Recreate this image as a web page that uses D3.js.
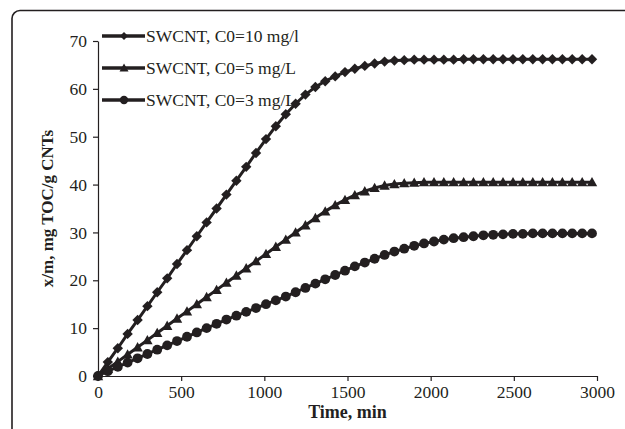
<!DOCTYPE html>
<html>
<head>
<meta charset="utf-8">
<script src="https://cdn.jsdelivr.net/npm/d3@7"></script>
<style>
  body { margin: 0; background: #fff; }
  text { font-family: "Liberation Serif", "Times New Roman", serif; fill: #231f20; }
</style>
</head>
<body>
<div id="content"></div>
<script>
// time points (min)
var time = [0, 59, 119, 178, 238, 297, 356, 416, 475, 535, 594, 653, 713, 772, 832, 891, 950, 1010, 1069, 1129,
    1188, 1247, 1307, 1366, 1426, 1485, 1544, 1604, 1663, 1723, 1782, 1841, 1901, 1960, 2020, 2079, 2138, 2198, 2257, 2317,
    2376, 2435, 2495, 2554, 2614, 2673, 2732, 2792, 2851, 2911, 2970]

var c10 = [0, 2.9, 5.8, 8.8, 11.7, 14.6, 17.5, 20.4, 23.4, 26.3, 29.2, 32.1, 35.0, 37.9, 40.8, 43.7, 46.6, 49.5, 52.2, 54.7,
    56.9, 58.8, 60.4, 61.6, 62.6, 63.5, 64.2, 64.8, 65.3, 65.7, 65.9, 66.0, 66.1, 66.1, 66.1, 66.1, 66.1, 66.2, 66.2, 66.2,
    66.2, 66.2, 66.2, 66.2, 66.2, 66.2, 66.2, 66.2, 66.2, 66.2, 66.2]

var c5 = [0, 1.5, 3.0, 4.5, 6.0, 7.5, 9.0, 10.5, 12.0, 13.5, 15.0, 16.5, 18.0, 19.5, 21.0, 22.5, 24.0, 25.5, 27.0, 28.5,
    30.0, 31.5, 33.0, 34.4, 35.7, 36.8, 37.8, 38.6, 39.3, 39.8, 40.1, 40.3, 40.4, 40.5, 40.5, 40.5, 40.5, 40.5, 40.5, 40.5,
    40.5, 40.5, 40.5, 40.5, 40.5, 40.5, 40.5, 40.5, 40.5, 40.5, 40.5]

var c3 = [0, 1.0, 1.9, 2.8, 3.7, 4.6, 5.5, 6.4, 7.3, 8.2, 9.1, 10.0, 10.9, 11.8, 12.6, 13.4, 14.2, 15.0, 15.8, 16.6,
    17.5, 18.4, 19.3, 20.2, 21.1, 22.0, 22.9, 23.7, 24.5, 25.3, 26.0, 26.6, 27.2, 27.7, 28.1, 28.5, 28.8, 29.0, 29.2, 29.4,
    29.5, 29.6, 29.7, 29.7, 29.8, 29.8, 29.8, 29.8, 29.8, 29.8, 29.8]

var seriesNames = ['SWCNT, C0=10 mg/l', 'SWCNT, C0=5 mg/L', 'SWCNT, C0=3 mg/L']
var xTicks = [0, 500, 1000, 1500, 2000, 2500, 3000]
var yTicks = [0, 10, 20, 30, 40, 50, 60, 70]

var width = 625, height = 429
var margin = { left: 98, right: 28, top: 41, bottom: 53 }
var ink = '#231f20'

// marker shapes: square diamond, triangle, circle
function marker(k, s) {
    if (k === 0) return `M0,${-s}L${s},0L0,${s}L${-s},0Z`
    if (k === 1) return `M0,${-s}L${s},${s * 0.8}L${-s},${s * 0.8}Z`
    return d3.symbol().type(d3.symbolCircle).size(Math.PI * s * s)()
}
var markSize = [5.2, 5.2, 4.9]
var legendSize = [4, 4.5, 4.2]

var svg = d3.select('#content')
    .append('svg')
    .attr('width', width)
    .attr('height', height)

// outer frame (cropped figure border)
svg.append('rect')
    .attr('x', 12)
    .attr('y', 10.5)
    .attr('width', 700)
    .attr('height', 500)
    .attr('rx', 8)
    .attr('fill', 'none')
    .attr('stroke', ink)
    .attr('stroke-width', 1.6)

var x = d3.scaleLinear().domain([0, 3000]).range([margin.left, width - margin.right])
var y = d3.scaleLinear().domain([0, 70]).range([height - margin.bottom, margin.top])

svg.append('g')
    .attr('transform', `translate(0,${y(0)})`)
    .call(d3.axisBottom(x).tickValues(xTicks).tickFormat(d3.format('d')).tickSize(5).tickSizeOuter(0).tickPadding(5))
svg.append('g')
    .attr('transform', `translate(${x(0)},0)`)
    .call(d3.axisLeft(y).tickValues(yTicks).tickFormat(d3.format('d')).tickSize(5).tickSizeOuter(0).tickPadding(6))

svg.selectAll('.domain, .tick line').attr('stroke', ink).attr('stroke-width', 1.2)
svg.selectAll('.tick text').attr('font-size', 17.5).attr('font-family', '"Liberation Serif", serif').attr('fill', ink)

svg.append('text')
    .attr('x', x(1500))
    .attr('y', 418)
    .attr('text-anchor', 'middle')
    .attr('font-size', 18)
    .attr('font-weight', 'bold')
    .text('Time, min')

svg.append('text')
    .attr('transform', `translate(53,${(y(0) + y(70)) / 2}) rotate(-90)`)
    .attr('text-anchor', 'middle')
    .attr('font-size', 17)
    .attr('font-weight', 'bold')
    .text('x/m, mg TOC/g CNTs')

var allSeries = [c10, c5, c3]

var line = d3.line()
    .x((d, i) => x(time[i]))
    .y(d => y(d))

allSeries.forEach(function (vals, k) {
    svg.append('path')
        .datum(vals)
        .attr('fill', 'none')
        .attr('stroke', ink)
        .attr('stroke-width', 3)
        .attr('d', line)

    svg.append('g')
        .selectAll('path')
        .data(vals)
        .join('path')
        .attr('transform', (d, i) => `translate(${x(time[i])},${y(d)})`)
        .attr('d', marker(k, markSize[k]))
        .attr('fill', ink)
})

// legend
var legendY = [36, 68, 100]
seriesNames.forEach(function (name, k) {
    var g = svg.append('g').attr('transform', `translate(0,${legendY[k]})`)
    g.append('line')
        .attr('x1', 102).attr('x2', 145)
        .attr('stroke', ink)
        .attr('stroke-width', 3.5)
    g.append('path')
        .attr('transform', 'translate(124,0)')
        .attr('d', marker(k, legendSize[k]))
        .attr('fill', ink)
    g.append('text')
        .attr('x', 146)
        .attr('y', 6)
        .attr('font-size', 17.5)
        .text(name)
})
</script>
</body>
</html>
